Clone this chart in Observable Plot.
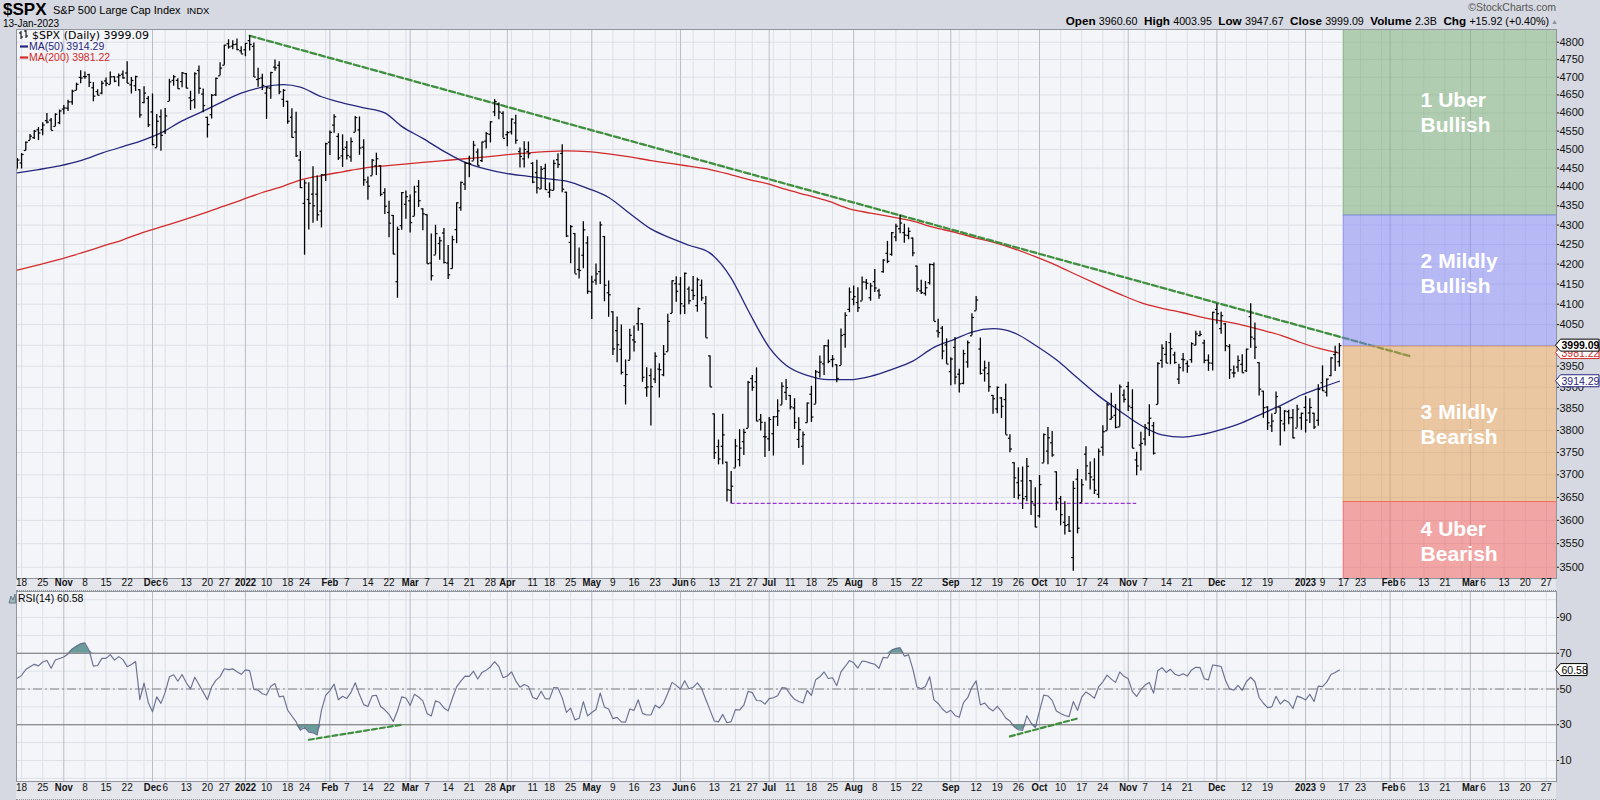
<!DOCTYPE html>
<html><head><meta charset="utf-8">
<script src="https://cdn.jsdelivr.net/npm/d3@7"></script>
<script src="https://cdn.jsdelivr.net/npm/@observablehq/plot@0.6"></script>
<style>
html,body{margin:0;padding:0;background:#d6d9e1;}
#wrap{position:relative;width:1600px;height:800px;overflow:hidden;background:#d6d9e1;font-family:"Liberation Sans",Arial,sans-serif;color:#111;}
.strip{position:absolute;left:16px;width:1540px;background:#e4e6ec;box-sizing:border-box;}
#wrap svg.plotsvg{position:absolute;left:0;}
</style></head>
<body><div id="wrap"></div>
<script>
// ================= DATA =================
const holidays = ["2021-11-25","2021-12-24","2022-01-17","2022-02-21","2022-04-15","2022-05-30","2022-06-20","2022-07-04","2022-09-05","2022-11-24","2022-12-26","2023-01-02","2023-01-16","2023-02-20"];
const firstBarDate = "2021-10-15";
const lastCalendarDate = "2023-03-31";

// closes Sep 1 2021 - Oct 14 2021 (RSI warm-up only)
const preCloses = [4524.1,4537.0,4535.4,4520.0,4514.1,4493.3,4458.6,4468.7,4443.1,4480.7,4473.8,4433.0,4357.7,4354.2,4395.6,4449.0,4455.5,4443.1,4352.6,4359.5,4307.5,
 4357.0,4300.5,4345.7,4363.6,4399.8,4391.3,4361.2,4350.7,4363.8,4438.3];

// daily bars Oct 15 2021 - Jan 13 2023 (one row per month)
const opens = [
 4447.7,4463.7,4497.3,4524.4,4532.2,4553.7,4553.7,4578.7,4580.2,4562.8,4572.9,
 4610.6,4613.3,4630.7,4662.9,4699.3,4701.5,4707.3,4670.3,4659.4,4655.2,4689.3,4679.4,4701.5,4700.7,4708.4,4712.0,4678.5,4675.8,4664.6,4628.8,4640.2,
 4602.8,4504.7,4589.5,4548.4,4632.0,4690.9,4691.0,4687.6,4710.3,4642.0,4636.5,4719.1,4652.5,4587.9,4595.0,4650.4,4704.0,4734.0,4795.5,4788.6,4794.2,4775.2,
 4778.1,4804.5,4788.0,4693.4,4697.7,4655.3,4669.1,4728.6,4733.6,4638.0,4632.2,4588.0,4547.4,4471.4,4356.3,4366.6,4380.6,4380.6,4336.2,4431.8,
 4519.6,4566.4,4535.4,4482.8,4505.8,4480.0,4547.0,4553.2,4506.3,4412.6,4429.3,4455.8,4456.1,4384.6,4332.7,4324.9,4155.8,4298.4,4354.2,
 4363.1,4322.6,4401.3,4342.1,4327.0,4202.7,4223.1,4252.6,4279.5,4202.8,4188.8,4288.1,4345.1,4407.3,4462.4,4469.1,4493.1,4470.0,4522.7,4541.1,4602.9,4624.2,4599.0,
 4540.3,4548.0,4572.5,4494.2,4474.7,4494.2,4462.6,4437.6,4394.3,4449.1,4385.6,4390.6,4472.3,4489.2,4385.8,4255.3,4278.1,4186.5,4222.6,4253.8,
 4130.6,4159.8,4181.2,4270.4,4128.2,4081.3,4035.2,3990.1,3904.0,3963.9,4013.0,4052.0,4052.0,3899.0,3927.8,3919.4,3942.9,3929.6,3984.6,4077.4,4151.1,
 4149.8,4095.4,4137.6,4134.7,4096.5,4147.1,4101.7,3974.4,3838.2,3763.5,3764.1,3728.2,3665.9,3715.3,3733.9,3774.7,3805.0,3920.8,3913.0,3825.1,3786.0,
 3781.0,3792.6,3832.0,3858.9,3888.3,3880.9,3852.0,3779.7,3764.0,3818.0,3883.8,3860.7,3935.3,3955.5,3998.4,3965.7,3953.2,3951.4,4026.1,4087.3,
 4112.4,4104.2,4108.0,4154.9,4115.9,4155.9,4133.1,4181.0,4227.4,4225.0,4269.4,4290.5,4280.4,4273.1,4266.3,4195.1,4133.1,4126.6,4153.3,4198.7,4034.6,4041.3,4000.7,
 3936.7,3994.7,3930.9,3909.4,3959.9,4022.9,4083.7,3991.0,3940.7,3932.4,3881.0,3849.9,3875.2,3871.4,3782.4,3727.1,3682.7,3686.4,3651.9,3687.0,3633.5,
 3609.8,3726.5,3753.3,3772.0,3706.7,3647.5,3595.9,3590.8,3520.4,3690.4,3638.7,3746.3,3703.1,3689.1,3657.1,3762.0,3799.4,3826.0,3834.7,3808.3,3881.9,
 3901.8,3852.9,3733.3,3767.0,3780.7,3817.0,3810.9,3859.9,3963.7,3978.0,4006.4,3976.8,3919.3,3966.4,3956.2,3965.5,4000.3,4023.3,4005.4,3964.2,3957.2,
 4087.1,4040.2,4052.0,3996.6,3934.0,3947.8,3954.2,3939.3,4069.4,4015.5,3958.4,3890.9,3853.8,3810.5,3839.5,3853.6,3815.1,3843.3,3829.6,3805.5,3829.1,
 3853.3,3840.4,3839.7,3823.4,3910.8,3888.6,3927.7,3977.6,3960.6];
const highs = [
 4475.8,4488.8,4520.4,4540.9,4551.4,4559.7,4572.6,4598.5,4584.6,4597.6,4608.1,
 4620.3,4635.2,4663.5,4683.0,4718.5,4714.9,4708.5,4684.9,4664.6,4688.5,4697.4,4714.9,4701.5,4708.8,4717.8,4743.8,4699.4,4702.9,4664.6,4672.9,4646.0,
 4652.9,4595.5,4608.0,4612.6,4694.0,4705.1,4695.3,4713.6,4710.3,4660.5,4712.6,4732.0,4666.7,4587.9,4651.1,4697.7,4740.7,4791.5,4807.0,4804.1,4808.9,4786.8,
 4796.6,4818.6,4797.7,4725.0,4708.0,4673.0,4714.1,4749.0,4744.1,4665.1,4632.2,4611.6,4602.1,4494.5,4417.4,4411.0,4453.2,4428.7,4432.7,4516.9,
 4550.5,4595.3,4542.9,4539.7,4521.9,4531.3,4590.0,4588.9,4526.3,4426.2,4472.8,4490.0,4456.1,4394.6,4362.1,4325.0,4294.7,4385.3,4388.8,
 4378.5,4401.5,4416.8,4342.1,4327.0,4276.9,4299.4,4268.3,4291.0,4247.6,4271.1,4358.0,4412.7,4465.4,4481.8,4522.0,4501.1,4520.6,4546.0,4575.7,4637.3,4627.8,4603.1,
 4548.7,4583.5,4593.5,4503.9,4521.2,4520.4,4464.4,4471.0,4453.9,4460.5,4410.3,4471.0,4488.3,4512.9,4385.8,4299.0,4278.1,4240.7,4308.5,4269.7,
 4169.8,4200.1,4307.7,4270.4,4157.7,4081.3,4068.8,4049.1,3964.8,4038.9,4046.5,4090.7,4052.0,3946.0,3943.4,3981.9,3955.7,3999.3,4075.1,4158.5,4168.3,
 4166.5,4177.5,4142.7,4168.8,4164.9,4160.1,4119.1,3974.4,3838.2,3778.2,3837.6,3728.2,3707.7,3779.7,3801.8,3802.6,3913.7,3928.0,3945.9,3836.5,3819.0,
 3829.8,3832.2,3870.9,3910.6,3918.5,3880.9,3873.4,3829.4,3796.4,3863.6,3902.4,3939.8,3974.1,3999.3,4012.4,3975.3,3953.2,4039.6,4079.0,4140.2,
 4145.0,4140.5,4167.7,4161.3,4151.6,4186.6,4137.3,4211.0,4257.9,4280.5,4301.8,4325.3,4302.2,4292.5,4266.3,4195.1,4159.8,4156.6,4200.5,4203.0,4063.0,4045.0,4015.4,
 3970.2,4018.4,3942.6,3987.9,4010.5,4076.8,4119.3,4017.4,3961.9,3959.1,3881.0,3900.5,3876.0,3907.1,3790.1,3727.1,3715.7,3717.5,3736.7,3687.0,3671.4,
 3698.4,3791.9,3806.9,3797.9,3706.7,3652.2,3640.7,3608.3,3685.4,3712.0,3689.7,3762.8,3728.6,3736.0,3757.9,3810.7,3862.9,3886.2,3860.0,3905.4,3893.7,
 3911.8,3894.4,3750.6,3796.3,3814.0,3859.4,3818.2,3958.3,4001.5,4009.0,4028.8,3983.1,3954.3,3979.9,3962.0,4005.9,4033.8,4034.0,4012.3,3976.8,4080.1,
 4100.5,4080.5,4052.5,4001.5,3950.6,3974.2,3977.0,3990.7,4101.0,4053.8,3958.4,3890.9,3854.9,3838.2,3889.3,3853.6,3845.8,3846.7,3848.3,3858.2,3839.9,
 3878.5,3873.2,3839.7,3906.2,3950.6,3919.8,3970.1,3997.8,4003.95];
const lows = [
 4447.7,4447.5,4496.4,4524.4,4526.9,4524.0,4537.4,4569.2,4551.7,4562.8,4567.6,
 4595.1,4604.0,4621.2,4662.6,4681.3,4694.4,4670.9,4630.9,4648.3,4650.4,4672.9,4679.4,4684.4,4672.8,4694.2,4682.2,4652.7,4659.9,4585.4,4625.3,4560.0,
 4510.3,4504.7,4495.1,4540.5,4632.0,4674.5,4666.0,4670.2,4667.6,4606.5,4611.2,4651.9,4600.2,4531.1,4583.2,4645.5,4704.0,4734.0,4780.0,4778.1,4775.3,4765.8,
 4758.2,4774.3,4699.4,4671.3,4662.7,4582.2,4638.3,4716.6,4650.3,4614.8,4568.7,4530.2,4478.0,4395.3,4222.6,4287.1,4304.8,4309.5,4292.5,4414.0,
 4483.5,4544.3,4470.4,4451.5,4471.5,4465.4,4547.0,4484.3,4401.4,4364.8,4429.3,4429.8,4373.8,4327.2,4267.1,4223.8,4114.7,4286.8,4315.1,
 4279.5,4322.6,4345.6,4285.0,4199.9,4157.9,4223.1,4209.8,4200.5,4161.7,4187.9,4252.0,4335.7,4390.6,4424.3,4469.1,4455.8,4465.2,4501.1,4517.7,4589.7,4581.3,4530.4,
 4507.6,4539.2,4514.2,4450.0,4450.3,4474.6,4408.4,4381.3,4392.7,4390.8,4370.3,4390.6,4448.8,4384.5,4267.6,4200.8,4175.0,4162.9,4188.6,4124.3,
 4062.5,4147.1,4148.9,4106.0,4067.9,3975.5,3958.2,3928.8,3858.9,3963.9,3984.0,4033.9,3911.9,3876.6,3810.3,3909.0,3875.1,3925.0,3984.6,4077.4,4104.9,
 4073.9,4074.4,4098.7,4109.2,4080.2,4107.2,4017.2,3900.2,3734.3,3722.3,3722.3,3639.8,3636.9,3715.3,3717.7,3743.5,3805.0,3891.0,3820.1,3799.0,3738.7,
 3752.1,3742.1,3809.4,3858.9,3869.3,3847.2,3802.4,3759.1,3721.6,3817.2,3818.6,3860.7,3922.0,3927.6,3955.8,3946.3,3910.7,3951.4,3993.0,4079.2,
 4096.0,4079.8,4108.0,4135.4,4107.3,4129.0,4112.1,4177.3,4201.4,4219.8,4256.9,4277.8,4253.1,4262.0,4218.7,4129.9,4124.0,4120.0,4147.6,4057.7,4017.4,3965.2,3954.5,
 3903.7,3906.2,3886.8,3906.0,3944.8,4022.9,4083.7,3929.0,3912.3,3888.3,3837.1,3838.5,3827.5,3789.5,3749.5,3647.5,3644.8,3623.8,3640.6,3610.4,3584.1,
 3604.9,3726.5,3722.7,3739.2,3620.7,3588.1,3568.5,3573.9,3491.6,3570.9,3638.7,3686.5,3666.5,3656.4,3647.4,3741.7,3799.4,3824.1,3803.8,3808.3,3863.2,
 3843.8,3758.7,3698.2,3708.8,3764.7,3786.3,3744.2,3859.9,3944.8,3956.4,3953.2,3954.3,3906.5,3936.0,3933.3,3956.9,3998.7,4020.8,3955.8,3937.7,3938.6,
 4050.9,4026.6,3984.5,3918.4,3922.0,3935.8,3933.0,3935.3,3993.0,3965.7,3879.5,3827.9,3800.0,3795.6,3839.5,3764.5,3797.0,3813.2,3780.8,3805.5,3800.3,
 3794.3,3815.8,3802.4,3809.6,3890.4,3877.3,3925.0,3937.6,3947.67];
const closes = [
 4471.4,4486.5,4519.6,4536.2,4549.8,4544.9,4566.5,4574.8,4551.7,4596.4,4605.4,
 4613.7,4630.7,4660.6,4680.1,4697.5,4701.7,4685.3,4646.7,4649.3,4682.9,4682.8,4700.9,4688.7,4704.5,4698.0,4682.9,4690.7,4701.5,4594.6,4655.3,4567.0,
 4513.0,4577.1,4538.4,4591.7,4686.8,4701.2,4667.5,4712.0,4669.0,4634.1,4709.9,4668.7,4620.6,4568.0,4649.2,4696.6,4725.8,4791.2,4786.4,4793.1,4778.7,4766.2,
 4796.6,4793.5,4700.6,4696.1,4677.0,4670.3,4713.1,4726.4,4659.0,4662.9,4577.1,4532.8,4482.7,4397.9,4410.1,4356.5,4349.9,4326.5,4431.9,4515.6,
 4546.5,4589.4,4477.4,4500.5,4483.9,4521.5,4587.2,4504.1,4418.6,4401.7,4471.1,4475.0,4380.3,4348.9,4304.8,4225.5,4288.7,4384.7,4373.9,
 4306.3,4386.5,4363.5,4328.9,4201.1,4170.7,4277.9,4259.5,4204.3,4173.1,4262.5,4357.9,4411.7,4463.1,4461.2,4511.6,4456.2,4520.2,4543.1,4575.5,4631.6,4602.5,4530.4,
 4545.9,4582.6,4525.1,4481.2,4500.2,4488.3,4412.5,4397.5,4446.6,4392.6,4391.7,4462.2,4459.5,4393.7,4271.8,4296.1,4175.2,4184.0,4287.5,4131.9,
 4155.4,4175.5,4300.2,4146.9,4123.3,3991.2,4001.1,3935.2,3930.1,4023.9,4008.0,4088.9,3923.7,3900.8,3901.4,3973.8,3941.5,3978.7,4057.8,4158.2,4132.2,
 4101.2,4176.8,4108.5,4121.4,4160.7,4115.8,4017.8,3900.9,3749.6,3735.5,3790.0,3666.8,3674.8,3764.8,3759.9,3795.7,3911.7,3900.1,3821.6,3818.8,3785.4,
 3825.3,3831.4,3845.1,3902.6,3899.4,3854.4,3818.8,3801.8,3790.4,3863.2,3830.9,3936.7,3959.9,3999.0,3961.6,3966.8,3921.1,4023.6,4072.4,4130.3,
 4118.6,4091.2,4155.2,4151.9,4145.2,4140.1,4122.5,4210.2,4207.3,4280.2,4297.1,4305.2,4274.0,4283.7,4228.5,4138.0,4128.7,4140.8,4199.1,4057.7,4030.6,3986.2,3955.0,
 3966.9,3924.3,3908.2,3979.9,4006.2,4067.4,4110.4,3932.7,3946.0,3901.4,3873.3,3899.9,3855.9,3789.9,3758.0,3693.2,3655.0,3647.3,3719.0,3640.5,3585.6,
 3678.4,3790.9,3783.3,3744.5,3639.7,3612.4,3588.8,3577.0,3669.9,3583.1,3678.0,3720.0,3695.2,3665.8,3752.8,3797.3,3859.1,3830.6,3807.3,3901.1,3872.0,
 3856.1,3759.7,3719.9,3770.6,3806.8,3828.1,3748.6,3956.4,3992.9,3957.3,3991.7,3958.8,3946.6,3965.3,3949.9,4003.6,4027.3,4026.1,3963.9,3957.6,4080.1,
 4076.6,4071.7,3998.8,3941.3,3933.9,3963.5,3934.4,3990.6,4019.7,3995.3,3895.8,3852.4,3817.7,3821.6,3878.4,3822.4,3844.8,3829.3,3783.2,3849.3,3839.5,
 3824.1,3853.0,3808.1,3895.1,3892.1,3919.3,3969.6,3983.2,3999.09];

// moving averages
const maDates = ["2021-10-15","2021-10-22","2021-10-29","2021-11-05","2021-11-12","2021-11-19","2021-11-26","2021-12-03","2021-12-10","2021-12-17","2021-12-23","2021-12-31",
 "2022-01-07","2022-01-14","2022-01-21","2022-01-28","2022-02-04","2022-02-11","2022-02-18","2022-02-25","2022-03-04","2022-03-11","2022-03-18","2022-03-25",
 "2022-04-01","2022-04-08","2022-04-14","2022-04-22","2022-04-29","2022-05-06","2022-05-13","2022-05-20","2022-05-27","2022-06-03","2022-06-10","2022-06-17",
 "2022-06-24","2022-07-01","2022-07-08","2022-07-15","2022-07-22","2022-07-29","2022-08-05","2022-08-12","2022-08-19","2022-08-26","2022-09-02","2022-09-09",
 "2022-09-16","2022-09-23","2022-09-30","2022-10-07","2022-10-14","2022-10-21","2022-10-28","2022-11-04","2022-11-11","2022-11-18","2022-11-25","2022-12-02",
 "2022-12-09","2022-12-16","2022-12-23","2022-12-30","2023-01-06","2023-01-13"];
const ma50 = [4437,4446,4456,4470,4490,4508,4522,4545,4578,4605,4628,4655,
 4672,4679,4672,4645,4628,4614,4600,4563,4530,4495,4465,4447,
 4435,4428,4422,4415,4396,4372,4330,4290,4265,4248,4228,4165,
 4085,3995,3952,3928,3918,3918,3926,3942,3962,3995,4015,4032,
 4040,4030,4000,3965,3922,3880,3845,3812,3790,3785,3790,3802,
 3818,3840,3862,3882,3897,3914.29];
const ma200 = [4185,4198,4212,4228,4245,4262,4278,4295,4312,4330,4346,4365,
 4385,4402,4418,4430,4440,4450,4456,4460,4465,4470,4475,4480,
 4486,4491,4494,4496,4494,4488,4480,4470,4462,4455,4446,4432,
 4420,4407,4393,4378,4362,4342,4331,4321,4310,4294,4281,4269,
 4256,4239,4219,4197,4172,4148,4125,4104,4090,4079,4069,4059,
 4049,4036,4021,4006,3993,3981.22];

// annotations
const trendDates = ["2022-01-04","2023-02-08"];
const trendValues = [4818.62, 3973];
const supportDates = ["2022-06-17","2022-11-03"];
const supportValue = 3636.87;
const rsiTrend1Dates = ["2022-01-25","2022-02-25"];
const rsiTrend1Values = [21.6, 30.0];
const rsiTrend2Dates = ["2022-09-22","2022-10-14"];
const rsiTrend2Values = [23.5, 33.5];

const zoneLabels = ["1 Uber\nBullish","2 Mildly\nBullish","3 Mildly\nBearish","4 Uber\nBearish"];
const zoneHigh = [4900, 4325, 3997, 3640];
const zoneLow = [4325, 3997, 3640, 3400];
const zoneLabelLevel = [4605, 4180, 3816, 3557]; // price level where each label is centred
const zoneColors = ["#6ea66a","#7a7df1","#e2994a","#f05551"];
const zoneStart = "2023-01-17";

const priceTicks = d3.range(3500, 4801, 50);
const priceLabelTicks = priceTicks.filter(v => v !== 4000); // 4000 sits under the last-close tag
const rsiTicks = [10, 30, 50, 70, 90];
const rsiGrid = d3.range(0, 101, 10);

const dateTickDates = ["2021-10-18","2021-10-25","2021-11-01","2021-11-08","2021-11-15","2021-11-22","2021-12-01","2021-12-06","2021-12-13","2021-12-20","2021-12-27",
 "2022-01-03","2022-01-10","2022-01-18","2022-01-24","2022-02-01","2022-02-07","2022-02-14","2022-02-22","2022-03-01","2022-03-07","2022-03-14","2022-03-21","2022-03-28",
 "2022-04-01","2022-04-11","2022-04-18","2022-04-25","2022-05-02","2022-05-09","2022-05-16","2022-05-23","2022-06-01","2022-06-06","2022-06-13","2022-06-21","2022-06-27",
 "2022-07-01","2022-07-11","2022-07-18","2022-07-25","2022-08-01","2022-08-08","2022-08-15","2022-08-22","2022-09-01","2022-09-12","2022-09-19","2022-09-26",
 "2022-10-03","2022-10-10","2022-10-17","2022-10-24","2022-11-01","2022-11-07","2022-11-14","2022-11-21","2022-12-01","2022-12-12","2022-12-19",
 "2023-01-03","2023-01-09","2023-01-17","2023-01-23","2023-02-01","2023-02-06","2023-02-13","2023-02-21","2023-03-01","2023-03-06","2023-03-13","2023-03-20","2023-03-27"];
const dateTickLabels = ["18","25","Nov","8","15","22","Dec","6","13","20","27",
 "2022","10","18","24","Feb","7","14","22","Mar","7","14","21","28",
 "Apr","11","18","25","May","9","16","23","Jun","6","13","21","27",
 "Jul","11","18","25","Aug","8","15","22","Sep","12","19","26",
 "Oct","10","17","24","Nov","7","14","21","Dec","12","19",
 "2023","9","17","23","Feb","6","13","21","Mar","6","13","20","27"];

const headerLeft = {symbol: "$SPX", name: "S&P 500 Large Cap Index", exch: "INDX", date: "13-Jan-2023"};
const headerQuote = [["Open","3960.60"],["High","4003.95"],["Low","3947.67"],["Close","3999.09"],["Volume","2.3B"],["Chg","+15.92 (+0.40%)"]];
const lastValues = {close: 3999.09, ma50: 3914.29, ma200: 3981.22, rsi: 60.58};

// ================= BUILD =================
const wrap = document.getElementById("wrap");
const FONT = "Liberation Sans, Arial, Helvetica, sans-serif";
const hs = new Set(holidays);
function tradingDays(start, end) {
  const out = []; let d = new Date(start + "T12:00:00Z"); const e = new Date(end + "T12:00:00Z");
  while (d <= e) { const wd = d.getUTCDay(); const s = d.toISOString().slice(0, 10);
    if (wd !== 0 && wd !== 6 && !hs.has(s)) out.push(s); d.setUTCDate(d.getUTCDate() + 1); }
  return out;
}
const days = tradingDays(firstBarDate, lastCalendarDate);
const base = days.indexOf("2022-01-03");
const idx = s => days.indexOf(s) - base;

const n = Math.min(opens.length, highs.length, lows.length, closes.length);
const i0 = idx(firstBarDate);
const bars = d3.range(n).map(k => ({i: i0 + k, o: opens[k], h: highs[k], l: lows[k], c: closes[k]}));

// RSI(14), Wilder smoothing
const allC = preCloses.concat(closes);
const rsiAll = []; let ag = 0, al = 0;
for (let j = 1; j < allC.length; j++) {
  const ch = allC[j] - allC[j - 1], g = Math.max(ch, 0), l = Math.max(-ch, 0);
  if (j <= 14) { ag += g; al += l; if (j === 14) { ag /= 14; al /= 14; rsiAll[j] = 100 - 100 / (1 + ag / al); } }
  else { ag = (ag * 13 + g) / 14; al = (al * 13 + l) / 14; rsiAll[j] = 100 - 100 / (1 + ag / al); }
}
const rsiRows = d3.range(closes.length).map(k => ({i: i0 + k, r: rsiAll[preCloses.length + k]}));

const maRows = maDates.map((d, k) => ({i: idx(d), m50: ma50[k], m200: ma200[k]}));
const trendRows = trendDates.map((d, k) => ({i: idx(d), v: trendValues[k]}));
const rsiT1 = rsiTrend1Dates.map((d, k) => ({i: idx(d), v: rsiTrend1Values[k]}));
const rsiT2 = rsiTrend2Dates.map((d, k) => ({i: idx(d), v: rsiTrend2Values[k]}));

// grid lines: first trading day of each week / month
const weekLines = [], monthLines = [];
days.forEach((d, k) => {
  if (k === 0) return; const p = days[k - 1];
  if (d.slice(0, 7) !== p.slice(0, 7)) monthLines.push(k - base);
  else if (new Date(d + "T12:00:00Z").getUTCDay() < new Date(p + "T12:00:00Z").getUTCDay()) weekLines.push(k - base);
});

const X_DOMAIN = [-54.2, 310.4];
const Y_PRICE = [3476.3, 4836.8];
const Y_RSI = [-1.75, 104.55];
const zx1 = idx(zoneStart);
const zones = zoneLabels.map((lab, k) => ({label: lab, hi: zoneHigh[k], lo: zoneLow[k],
  mid: zoneLabelLevel[k], color: zoneColors[k], x1: zx1, x2: X_DOMAIN[1] + 2}));

const ticks = dateTickDates.map((d, k) => ({i: idx(d), label: dateTickLabels[k], bold: isNaN(+dateTickLabels[k]) || dateTickLabels[k].length === 4}));
const tickReg = ticks.filter(t => !t.bold), tickBold = ticks.filter(t => t.bold);

const GRID = "#dde0e7", GRID2 = "#b9bdc6", BG = "#f4f5f9", FRAME = "#8f949d";
const MA50C = "#26267e", MA200C = "#d22a2a", TEAL = "#6a9c9c", TRENDC = "#3f8f3f";

// strips behind date labels
function strip(top, h) { const s = document.createElement("div"); s.className = "strip"; s.style.top = top + "px"; s.style.height = h + "px";
  s.style.borderTop = "1px dotted #8d929b"; s.style.borderBottom = "1px dotted #8d929b"; wrap.appendChild(s); }
strip(578, 13);
strip(781, 19);

const price = Plot.plot({
  width: 1600, height: 591,
  marginTop: 29, marginBottom: 13, marginLeft: 16, marginRight: 44,
  style: {background: "transparent", overflow: "visible", fontFamily: FONT, color: "#111"},
  x: {domain: X_DOMAIN, axis: null},
  y: {type: "log", domain: Y_PRICE, axis: null},
  marks: [
    Plot.frame({fill: BG, stroke: "none"}),
    Plot.ruleY(priceTicks, {stroke: GRID}),
    Plot.ruleX(weekLines, {stroke: GRID}),
    Plot.ruleX(monthLines, {stroke: GRID2}),
    Plot.line(maRows, {x: "i", y: "m200", stroke: MA200C, strokeWidth: 1.3, curve: "monotone-x"}),
    Plot.line(maRows, {x: "i", y: "m50", stroke: MA50C, strokeWidth: 1.3, curve: "monotone-x"}),
    Plot.line(trendRows, {x: "i", y: "v", stroke: TRENDC, strokeWidth: 2.3, strokeDasharray: "6,3"}),
    Plot.ruleY([supportValue], {x1: idx(supportDates[0]), x2: idx(supportDates[1]), stroke: "#9c35d6", strokeWidth: 1.2, strokeDasharray: "4,2"}),
    Plot.ruleX(bars, {x: "i", y1: "l", y2: "h", stroke: "#000", strokeWidth: 1.3, clip: true}),
    Plot.link(bars, {x1: d => d.i - 0.48, x2: "i", y1: "o", y2: "o", stroke: "#000", strokeWidth: 1.2, clip: true}),
    Plot.link(bars, {x1: "i", x2: d => d.i + 0.48, y1: "c", y2: "c", stroke: "#000", strokeWidth: 1.2, clip: true}),
    Plot.rect(zones, {x1: "x1", x2: "x2", y1: "lo", y2: "hi", fill: d => d.color, fillOpacity: 0.5, stroke: d => d.color, strokeOpacity: 0.6, clip: true}),
    Plot.text(zones, {x: "x1", y: "mid", text: "label", dx: 77, textAnchor: "start", fill: "white", fontSize: 21, fontWeight: "bold", lineHeight: 1.2}),
    Plot.frame({stroke: FRAME}),
    Plot.axisY(priceLabelTicks, {anchor: "right", tickSize: 2, tickPadding: 1, fontSize: 11, tickFormat: d => String(d), label: null}),
    Plot.text(tickReg, {x: "i", text: "label", frameAnchor: "bottom", dy: 7, fontSize: 10}),
    Plot.text(tickBold, {x: "i", text: "label", frameAnchor: "bottom", dy: 7, fontSize: 11, fontWeight: "bold"})
  ]
});
price.classList.add("plotsvg"); price.style.top = "0px";
wrap.appendChild(price);

const rsiPlot = Plot.plot({
  width: 1600, height: 209,
  marginTop: 0, marginBottom: 19, marginLeft: 16, marginRight: 44,
  style: {background: "transparent", overflow: "visible", fontFamily: FONT, color: "#111"},
  x: {domain: X_DOMAIN, axis: null},
  y: {domain: Y_RSI, axis: null},
  marks: [
    Plot.frame({fill: BG, stroke: "none"}),
    Plot.ruleY(rsiGrid, {stroke: GRID}),
    Plot.ruleX(weekLines, {stroke: GRID}),
    Plot.ruleX(monthLines, {stroke: GRID2}),
    Plot.areaY(rsiRows, {x: "i", y1: 70, y2: d => Math.max(d.r, 70), fill: TEAL, clip: true}),
    Plot.areaY(rsiRows, {x: "i", y1: d => Math.min(d.r, 30), y2: 30, fill: TEAL, clip: true}),
    Plot.ruleY([70, 30], {stroke: "#707070"}),
    Plot.ruleY([50], {stroke: "#808080", strokeDasharray: "9,3,2,3"}),
    Plot.line(rsiRows, {x: "i", y: "r", stroke: "#6c7090", strokeWidth: 1.15, clip: true}),
    Plot.line(rsiT1, {x: "i", y: "v", stroke: TRENDC, strokeWidth: 2.2, strokeDasharray: "5,3"}),
    Plot.line(rsiT2, {x: "i", y: "v", stroke: TRENDC, strokeWidth: 2.2, strokeDasharray: "5,3"}),
    Plot.frame({stroke: FRAME}),
    Plot.axisY(rsiTicks, {anchor: "right", tickSize: 2, tickPadding: 1, fontSize: 11, label: null}),
    Plot.text(tickReg, {x: "i", text: "label", frameAnchor: "bottom", dy: 9, fontSize: 10}),
    Plot.text(tickBold, {x: "i", text: "label", frameAnchor: "bottom", dy: 9, fontSize: 11, fontWeight: "bold"})
  ]
});
rsiPlot.classList.add("plotsvg"); rsiPlot.style.top = "591px";
wrap.appendChild(rsiPlot);

// condense the bold month labels slightly, as on the original axis strip
for (const svg of [price, rsiPlot]) {
  svg.querySelectorAll('g[aria-label="text"]').forEach(g => {
    if (g.getAttribute("font-weight") === "bold" && g.getAttribute("font-size") === "11") {
      g.querySelectorAll("text").forEach(t => {
        const w = t.getComputedTextLength();
        if (w > 0) { t.setAttribute("textLength", (w * 0.86).toFixed(1)); t.setAttribute("lengthAdjust", "spacingAndGlyphs"); }
      });
    }
  });
}

// ---------- overlay: header, legends, value tags ----------
const ov = d3.select(wrap).append("svg").attr("width", 1600).attr("height", 800)
  .style("position", "absolute").style("left", 0).style("top", 0).style("pointer-events", "none")
  .attr("font-family", FONT);

ov.append("text").attr("x", 3).attr("y", 15).attr("font-size", 17).attr("font-weight", "bold").text(headerLeft.symbol);
const nameT = ov.append("text").attr("x", 53).attr("y", 14).attr("font-size", 11).text(headerLeft.name);
const nameW = nameT.node().getComputedTextLength() || 124;
ov.append("text").attr("x", 53 + nameW + 6).attr("y", 14).attr("font-size", 9.5).text(headerLeft.exch);
ov.append("text").attr("x", 3).attr("y", 27).attr("font-size", 10).text(headerLeft.date);
ov.append("text").attr("x", 1556).attr("y", 11).attr("font-size", 10.5).attr("text-anchor", "end").attr("fill", "#555").text("\u00A9StockCharts.com");
const q = ov.append("text").attr("x", 1549).attr("y", 25).attr("text-anchor", "end");
headerQuote.forEach(([k, v], j) => {
  q.append("tspan").attr("font-size", 11.7).attr("font-weight", "bold").text((j ? "\u00A0\u00A0" : "") + k + "\u00A0");
  q.append("tspan").attr("font-size", 10.7).text(v);
});
ov.append("text").attr("x", 1551).attr("y", 24).attr("font-size", 7).attr("fill", "#8a8f99").text("\u25B2");

// price legend
const lg = ov.append("g");
lg.append("path").attr("d", "M21,31 V39 M19,33 H21 M21,37 H23 M26,30 V38 M24,31 H26 M26,36 H28").attr("stroke", "#000").attr("stroke-width", 1).attr("fill", "none");
lg.append("text").attr("x", 32).attr("y", 39).attr("font-size", 11).attr("font-family", "DejaVu Sans, Verdana, sans-serif").text("$SPX (Daily) " + lastValues.close.toFixed(2));
lg.append("line").attr("x1", 20).attr("x2", 28).attr("y1", 46.5).attr("y2", 46.5).attr("stroke", MA50C).attr("stroke-width", 2.2);
lg.append("text").attr("x", 29).attr("y", 50).attr("font-size", 10.5).attr("fill", MA50C).text("MA(50) " + lastValues.ma50.toFixed(2));
lg.append("line").attr("x1", 20).attr("x2", 28).attr("y1", 57.5).attr("y2", 57.5).attr("stroke", MA200C).attr("stroke-width", 2.2);
lg.append("text").attr("x", 29).attr("y", 61).attr("font-size", 10.5).attr("fill", MA200C).text("MA(200) " + lastValues.ma200.toFixed(2));

// RSI legend
lg.append("path").attr("d", "M9,603 L11,596 L13,600 L15,594 L16,603 Z").attr("fill", "#9ab8b8").attr("stroke", "#5a6a7a").attr("stroke-width", 0.8);
lg.append("text").attr("x", 18).attr("y", 602).attr("font-size", 10.5).text("RSI(14) " + lastValues.rsi.toFixed(2));

// value tags on the right axes
function tag(yPix, text, color, bold, w) {
  const g = ov.append("g").attr("transform", `translate(1555,${yPix})`);
  g.append("path").attr("d", `M0.5,0 L5.5,-6 H${w} V6 H5.5 Z`).attr("fill", "#fff").attr("stroke", color).attr("stroke-width", 1);
  g.append("text").attr("x", 6.5).attr("y", 4).attr("font-size", 10.5).attr("font-weight", bold ? "bold" : "normal").attr("fill", color).text(text);
}
const yP = price.scale("y"), yR = rsiPlot.scale("y");
tag(yP.apply(lastValues.ma200), lastValues.ma200.toFixed(2), MA200C, false, 44);
tag(yP.apply(lastValues.close), lastValues.close.toFixed(2), "#000", true, 44);
tag(yP.apply(lastValues.ma50), lastValues.ma50.toFixed(2), MA50C, false, 44);
tag(591 + yR.apply(lastValues.rsi), lastValues.rsi.toFixed(2), "#000", false, 32);
</script></body></html>
